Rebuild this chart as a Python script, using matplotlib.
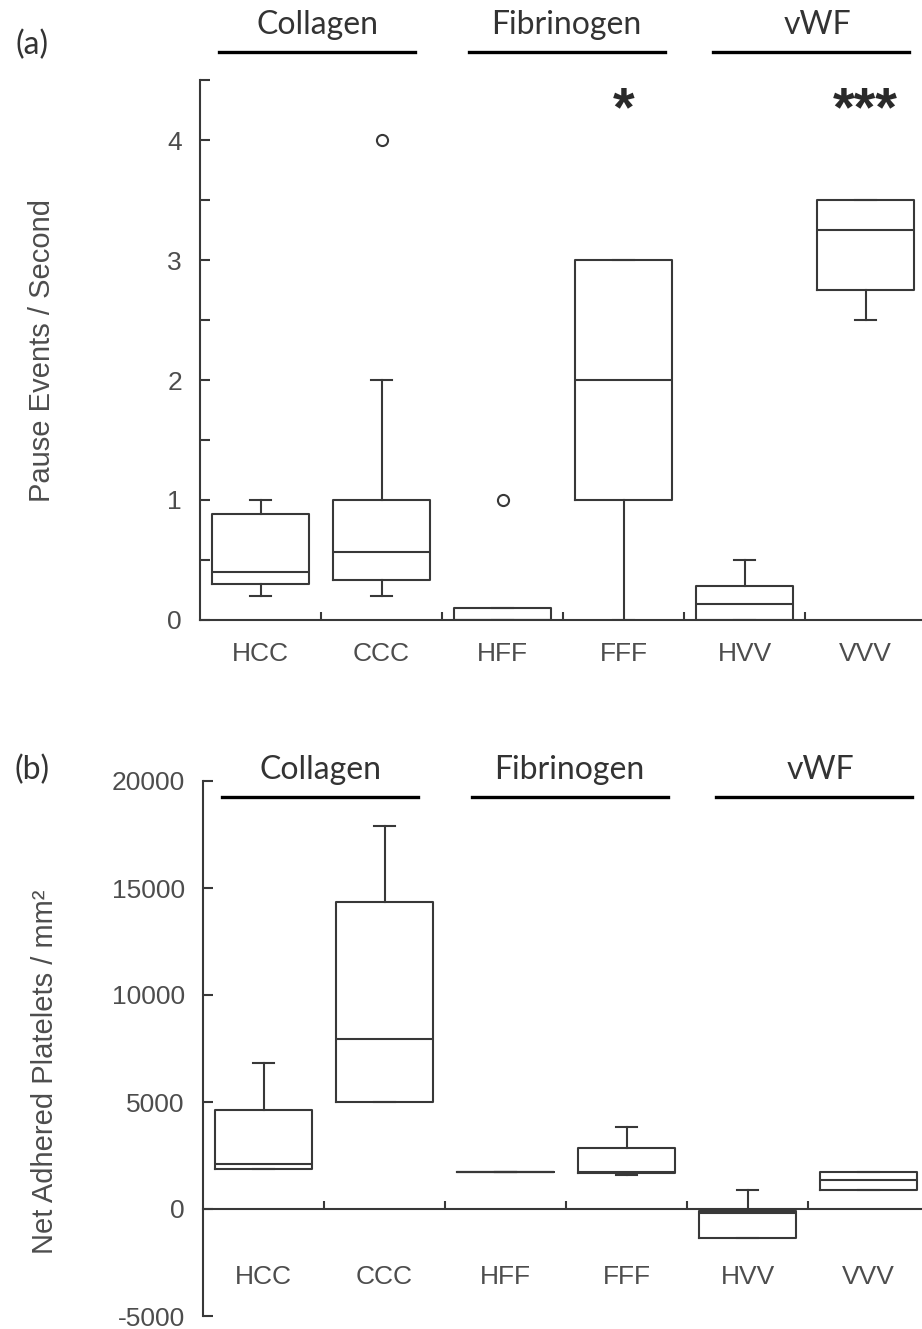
import matplotlib
matplotlib.use("agg")
import matplotlib.pyplot as plt
from matplotlib.transforms import blended_transform_factory

categories = ['HCC', 'CCC', 'HFF', 'FFF', 'HVV', 'VVV']
groups = ['Collagen', 'Fibrinogen', 'vWF']

# panel (a): pause events / second
a_whislo = [0.2, 0.2, 0.0, 0.0, 0.0, 2.5]
a_q1 = [0.3, 0.33, 0.0, 1.0, 0.0, 2.75]
a_med = [0.4, 0.57, 0.0, 2.0, 0.13, 3.25]
a_q3 = [0.88, 1.0, 0.1, 3.0, 0.28, 3.5]
a_whishi = [1.0, 2.0, 0.1, 3.0, 0.5, 3.5]
a_fliers = [[], [4.0], [1.0], [], [], []]
a_signif = ['', '', '', '*', '', '***']

# panel (b): net adhered platelets / mm2
b_whislo = [1850, 5000, 1730, 1600, -1350, 890]
b_q1 = [1850, 5000, 1730, 1700, -1350, 890]
b_med = [2100, 7950, 1730, 1730, -200, 1360]
b_q3 = [4630, 14350, 1730, 2850, -100, 1730]
b_whishi = [6800, 17900, 1730, 3830, 900, 1730]

W, H = 922, 1329
fig = plt.figure(figsize=(W / 100, H / 100), dpi=100)

line_col = '#383838'
tick_col = '#4d4d4d'
tick_font = 'Liberation Sans'
label_font = 'Lato'


def stats(lo, q1, med, q3, hi, fl):
    out = []
    for i in range(len(lo)):
        out.append(dict(whislo=lo[i], q1=q1[i], med=med[i], q3=q3[i],
                        whishi=hi[i], fliers=fl[i]))
    return out


def panel(rect, st, ylim, yticks, ylabels, ylabel, tag, tag_y, ylab_px,
          group_px, label_y):
    ax = fig.add_axes(rect)
    props = dict(color=line_col, linewidth=1.5)
    ax.bxp(st, positions=range(1, 7), widths=0.8, capwidths=0.18,
           boxprops=props, whiskerprops=props, capprops=props,
           medianprops=props,
           flierprops=dict(marker='o', markersize=8, markerfacecolor='none',
                           markeredgecolor=line_col, markeredgewidth=1.5),
           manage_ticks=False)
    ax.set_ylim(ylim)
    for s in ['top', 'right']:
        ax.spines[s].set_visible(False)
    for s in ['left', 'bottom']:
        ax.spines[s].set_color(line_col)
        ax.spines[s].set_linewidth(1.5)
    ax.spines['bottom'].set_position(('data', 0))
    ax.set_xticks([1.5, 2.5, 3.5, 4.5, 5.5])
    ax.set_xticklabels([])
    ax.tick_params(axis='x', direction='in', length=6, width=1.5,
                   color=line_col)
    ax.set_yticks(yticks)
    ax.set_yticklabels(ylabels, fontfamily=tick_font, fontsize=19,
                       color=tick_col)
    ax.tick_params(axis='y', direction='in', length=7, width=1.5,
                   color=line_col, pad=13)
    for i, c in enumerate(categories):
        ax.text(i + 1, label_y, c, ha='center', va='center',
                fontfamily=tick_font, fontsize=19, color=tick_col,
                clip_on=False)
    fig.text(ylab_px[0] / W, 1 - ylab_px[1] / H, ylabel, rotation=90,
             ha='center', va='center', fontfamily=tick_font, fontsize=21,
             color=tick_col)
    fig.text(32 / W, 1 - tag_y / H, tag, ha='center',
             va='center', fontfamily=label_font, fontsize=23,
             color='#333333')
    tr = blended_transform_factory(ax.transData, fig.transFigure)
    centers = [1.47, 3.53, 5.55]
    for g, cx in zip(groups, centers):
        ax.plot([cx - 0.81, cx + 0.81], [1 - group_px[1] / H] * 2,
                transform=tr, color='black', linewidth=2.4, clip_on=False)
        ax.text(cx + (0.05 if g == 'vWF' else 0), 1 - group_px[0] / H, g,
                transform=tr, ha='center', va='center',
                fontfamily=label_font, fontsize=23, color='#333333')
    return ax


# panel (a)
ax1 = panel([200 / W, 1 - 620 / H, (W - 200) / W, 540 / H],
            stats(a_whislo, a_q1, a_med, a_q3, a_whishi, a_fliers),
            (0, 4.5), [i * 0.5 for i in range(10)],
            ['0', '', '1', '', '2', '', '3', '', '4', ''],
            'Pause Events / Second', '(a)', 45, (42, 350), (25, 52), -0.28)
ax1.set_xlim(0.5, 0.5 + (W - 200) / 121.0)
for i, s in enumerate(a_signif):
    if s:
        ax1.text(i + 1, 4.24, s, ha='center', va='center',
                 fontfamily=tick_font, fontsize=40, fontweight='bold',
                 color='#2a2a2a', clip_on=False)

# panel (b)
ax2 = panel([203 / W, 1 - 1316 / H, (W - 203) / W, 535 / H],
            stats(b_whislo, b_q1, b_med, b_q3, b_whishi, [[]] * 6),
            (-5000, 20000), [-5000, 0, 5000, 10000, 15000, 20000],
            ['-5000', '0', '5000', '10000', '15000', '20000'],
            'Net Adhered Platelets / mm\u00b2', '(b)', 770, (45, 1072),
            (770, 797), -3180)
ax2.set_xlim(0.5, 0.5 + (W - 203) / 121.0)

fig.savefig('out.png', dpi=100)
